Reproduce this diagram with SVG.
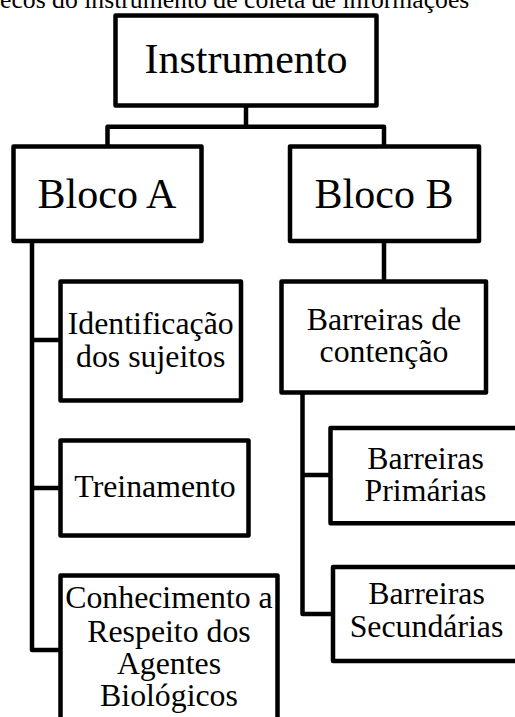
<svg xmlns="http://www.w3.org/2000/svg" width="515" height="717" viewBox="0 0 515 717">
<style>
  .box { fill: #fff; stroke: #000; stroke-width: 4.5; stroke-linejoin: round; }
  .con { fill: none; stroke: #000; stroke-width: 4.5; stroke-linejoin: round; stroke-linecap: square; }
  text { font-family: "Liberation Serif", "Times New Roman", serif; fill: #000; text-anchor: middle; }
  .big { font-size: 42px; }
  .mid { font-size: 31.8px; }
  .cap { font-size: 25.7px; text-anchor: start; }
</style>
<rect width="515" height="717" fill="#fff"/>
<text class="cap" x="0" y="7.5">ecos do instrumento de coleta de informações</text>
<g id="connectors">
  <path class="con" d="M246,106 V126.7 M107.5,146.5 V126.7 H384 V146.5"/>
  <path class="con" d="M32,241 V650 H60.5 M32,340 H60.5 M32,488 H60.5"/>
  <path class="con" d="M384,241 V281.5"/>
  <path class="con" d="M302.5,393 V614 H333 M302.5,475 H330.5"/>
</g>
<g id="instrumento">
  <rect class="box" x="115.5" y="15.5" width="261" height="90"/>
  <text class="big" x="246" y="72.7">Instrumento</text>
</g>
<g id="blocoA">
  <rect class="box" x="13.5" y="146.5" width="188" height="94.5"/>
  <text class="big" x="107" y="207.7">Bloco A</text>
</g>
<g id="blocoB">
  <rect class="box" x="290" y="146.5" width="189" height="94.5"/>
  <text class="big" x="384" y="207.7">Bloco B</text>
</g>
<g id="identificacao">
  <rect class="box" x="60.5" y="281.5" width="180.5" height="119"/>
  <text class="mid" x="150.7" y="334">Identificação</text>
  <text class="mid" x="150.7" y="366.5">dos sujeitos</text>
</g>
<g id="treinamento">
  <rect class="box" x="60.5" y="440.5" width="188" height="95"/>
  <text class="mid" x="155" y="496.7">Treinamento</text>
</g>
<g id="conhecimento">
  <rect class="box" x="60.5" y="575.5" width="217" height="200"/>
  <text class="mid" x="169" y="608.3">Conhecimento a</text>
  <text class="mid" x="169" y="641.7">Respeito dos</text>
  <text class="mid" x="169" y="674">Agentes</text>
  <text class="mid" x="169" y="706">Biológicos</text>
</g>
<g id="contencao">
  <rect class="box" x="281.5" y="281.5" width="204.5" height="111"/>
  <text class="mid" x="384" y="330">Barreiras de</text>
  <text class="mid" x="384" y="361.7">contenção</text>
</g>
<g id="primarias">
  <rect class="box" x="330.5" y="428" width="195" height="95.3"/>
  <text class="mid" x="425.5" y="469.3">Barreiras</text>
  <text class="mid" x="425.5" y="501">Primárias</text>
</g>
<g id="secundarias">
  <rect class="box" x="333" y="567" width="195" height="94"/>
  <text class="mid" x="426.5" y="604">Barreiras</text>
  <text class="mid" x="426.5" y="637">Secundárias</text>
</g>
</svg>
